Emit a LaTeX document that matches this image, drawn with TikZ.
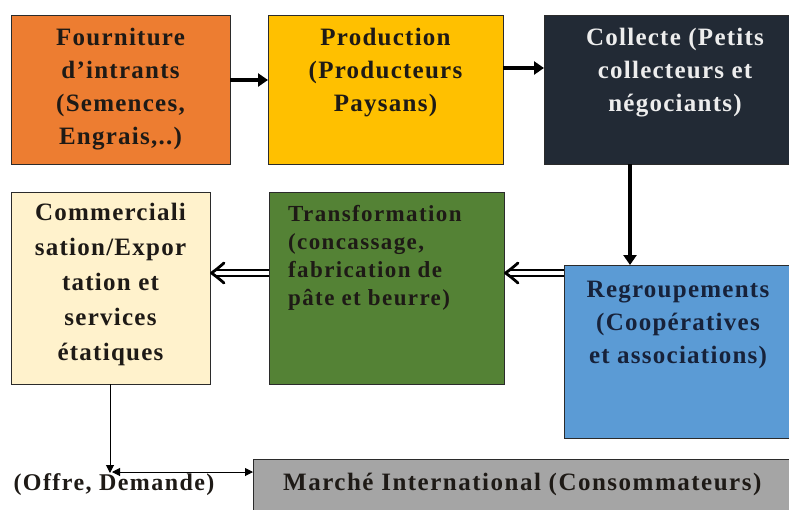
\documentclass[tikz,border=0pt]{standalone}
\usepackage{fontspec}
\setmainfont{Liberation Serif}
\newfontfamily\bxf[LetterSpace=5]{Liberation Serif}
\newfontfamily\bxg[LetterSpace=6]{Liberation Serif}
\usetikzlibrary{arrows.meta}
\definecolor{cOrange}{HTML}{ED7D31}
\definecolor{cGold}{HTML}{FFC000}
\definecolor{cDark}{HTML}{222A35}
\definecolor{cCream}{HTML}{FFF2CC}
\definecolor{cGreen}{HTML}{548235}
\definecolor{cBlue}{HTML}{5B9BD5}
\definecolor{cGray}{HTML}{A5A5A5}
\definecolor{cBorder}{HTML}{2B2B2B}
\definecolor{cTxt}{HTML}{1E1A16}
\definecolor{cTxtW}{HTML}{EDEDED}
\definecolor{cTxtB}{HTML}{17223A}
\tikzset{
  box/.style={draw=cBorder, line width=1pt, inner sep=0pt, outer sep=0pt},
  boxtxt/.style={inner sep=0pt, align=center, anchor=north, text=cTxt,
    font=\bxf\bfseries\fontsize{25}{33}\selectfont},
  thickarr/.style={line width=4pt, -{Triangle[length=10pt,width=13pt]}},
  dblshaft/.style={draw=black, double=white, double distance=3.5pt, line width=2.4pt},
  chev/.style={line width=2.8pt, line cap=round, line join=round},
  thinarr/.style={line width=1pt, -{Triangle[length=8pt,width=8pt]}},
}
\begin{document}
\begin{tikzpicture}[x=1pt,y=-1pt]
\useasboundingbox (0,0) rectangle (789,509);
% boxes
\node[box, fill=cOrange, minimum width=219pt, minimum height=149pt] (b1) at (120.5,89.5) {};
\node[box, fill=cGold, minimum width=235pt, minimum height=149pt] (b2) at (385.5,89.5) {};
\node[box, fill=cDark, minimum width=248pt, minimum height=149pt] (b3) at (668,89.5) {};
\node[box, fill=cCream, minimum width=199pt, minimum height=192pt] (b4) at (110.5,288) {};
\node[box, fill=cGreen, minimum width=235pt, minimum height=192pt] (b5) at (386.5,288) {};
\node[box, fill=cBlue, minimum width=228pt, minimum height=173pt] (b6) at (678,351.5) {};
\node[box, fill=cGray, minimum width=540pt, minimum height=54pt] (b7) at (523,486) {};
% texts
\node[boxtxt] (t1) at (120.5,28) {Fourniture\\d’intrants\\(Semences,\\Engrais,..)};
\node[boxtxt] (t2) at (385.5,28) {Production\\(Producteurs\\Paysans)};
\node[boxtxt, text=cTxtW] (t3) at (675,28) {Collecte (Petits\\collecteurs et\\négociants)};
\node[boxtxt, font=\bxf\bfseries\fontsize{25}{35}\selectfont] (t4) at (110.5,203) {Commerciali\\sation/Expor\\tation et\\services\\étatiques};
\node[boxtxt, anchor=north west, align=left, font=\bxg\bfseries\fontsize{23}{28}\selectfont] (t5) at (288,205) {Transformation\\(concassage,\\fabrication de\\pâte et beurre)};
\node[boxtxt, text=cTxtB] (t6) at (678,281) {Regroupements\\(Coopératives\\et associations)};
\node[inner sep=0pt, anchor=base, text=cTxt, font=\bxg\bfseries\fontsize{24}{28}\selectfont] (t8) at (114,490) {(Offre, Demande)};
\node[inner sep=0pt, anchor=base west, text=cTxt, font=\bxg\bfseries\fontsize{25}{28}\selectfont] (t7) at (283,490) {Marché International (Consommateurs)};
% connectors
\coordinate (a1) at (b1.east |- 0,80);
\coordinate (a2) at (b2.west |- 0,80);
\draw[thickarr] (a1) -- (a2);
\coordinate (a3) at (b2.east |- 0,68);
\coordinate (a4) at (b3.west |- 0,68);
\draw[thickarr] (a3) -- (a4);
\coordinate (a5) at (630,0 |- b3.south);
\coordinate (a6) at (630,0 |- b6.north);
\draw[thickarr] (a5) -- (a6);
% double (hollow) arrows
\coordinate (d1) at (b6.west |- 0,273);
\coordinate (d2) at (b5.east |- 0,273);
\draw[dblshaft] (d1) -- ([xshift=7pt]d2);
\draw[chev] ([shift={(14,-10)}]d2) .. controls ([shift={(7,-4)}]d2) .. ([xshift=1.5pt]d2) .. controls ([shift={(7,4)}]d2) .. ([shift={(14,10)}]d2);
\coordinate (d3) at (b5.west |- 0,273);
\coordinate (d4) at (b4.east |- 0,273);
\draw[dblshaft] (d3) -- ([xshift=7pt]d4);
\draw[chev] ([shift={(14,-10)}]d4) .. controls ([shift={(7,-4)}]d4) .. ([xshift=1.5pt]d4) .. controls ([shift={(7,4)}]d4) .. ([shift={(14,10)}]d4);
% bottom thin arrows
\coordinate (v1) at (110,0 |- b4.south);
\coordinate (v2) at (110,473);
\draw[thinarr] (v1) -- (v2);
\coordinate (h2) at (b7.west |- 0,472);
\draw[line width=1pt, {Triangle[length=8pt,width=8pt]}-{Triangle[length=8pt,width=8pt]}] (v2) ++(2,-1) coordinate (h1) (h1) -- (h2);
\end{tikzpicture}
\end{document}
